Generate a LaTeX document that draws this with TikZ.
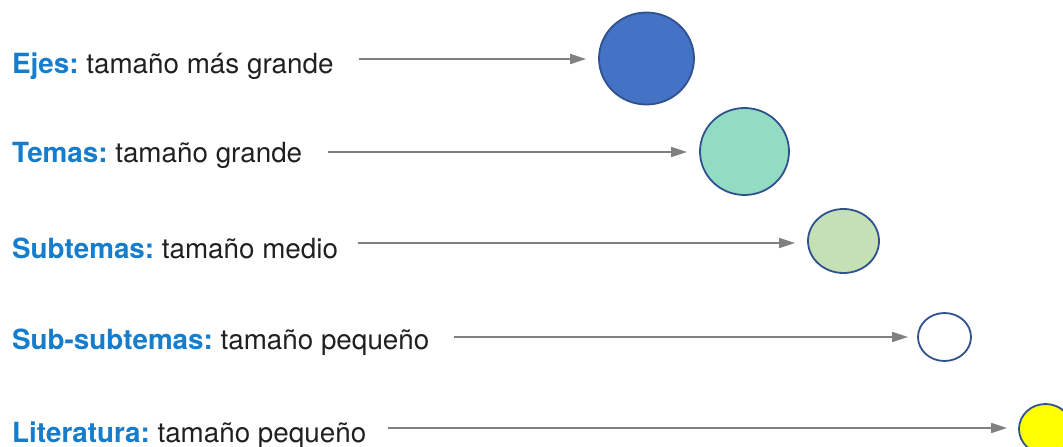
\documentclass[tikz,border=0pt]{standalone}
\usepackage{fontspec}
\setmainfont{TeX Gyre Heros}
\usetikzlibrary{arrows.meta,shapes.geometric}
\definecolor{lblue}{RGB}{22,125,205}
\definecolor{txt}{RGB}{34,31,32}
\definecolor{edge}{RGB}{47,82,143}
\definecolor{arr}{RGB}{128,128,128}
\definecolor{f1}{RGB}{68,114,196}
\definecolor{f2}{RGB}{146,220,196}
\definecolor{f3}{RGB}{197,224,180}
\definecolor{f5}{RGB}{255,255,0}
\frenchspacing
\tikzset{
  lbl/.style={anchor=base west, inner sep=0pt, text=txt, font=\fontsize{27.8}{32}\selectfont},
  bubble/.style={ellipse, draw=edge, line width=1.8pt, inner sep=0pt},
  conn/.style={draw=arr, line width=1.5pt, -{Triangle[length=16pt,width=10pt]}}
}
\newcommand{\hd}[1]{\textcolor{lblue}{\bfseries #1}}
\begin{document}
\begin{tikzpicture}[x=1pt,y=-1pt]
\useasboundingbox (0,0) rectangle (1063,447);
% labels
\node[lbl] (t1) at (12,73) {\hd{Ejes:} tamaño más grande};
\node[lbl] (t2) at (12,162) {\hd{Temas:} tamaño grande};
\node[lbl] (t3) at (12,258) {\hd{Subtemas:} tamaño medio};
\node[lbl] (t4) at (12,349) {\hd{Sub-subtemas:} tamaño pequeño};
\node[lbl] (t5) at (12,442) {\hd{Literatura:} tamaño pequeño};
% bubbles
\node[bubble, fill=f1, minimum width=95pt, minimum height=92pt] (c1) at (646.5,58.5) {};
\node[bubble, fill=f2, minimum width=89pt, minimum height=87pt] (c2) at (744.5,151.5) {};
\node[bubble, fill=f3, minimum width=71pt, minimum height=64pt] (c3) at (843.5,241) {};
\node[bubble, fill=white, minimum width=53pt, minimum height=48pt] (c4) at (944.5,337) {};
\node[bubble, fill=f5, minimum width=53pt, minimum height=50pt] (c5) at (1045.5,429) {};
% connector starts
\coordinate (s1) at (359,59);
\coordinate (s2) at (328,152);
\coordinate (s3) at (358,243);
\coordinate (s4) at (454,337);
\coordinate (s5) at (388,428);
\draw[conn, shorten >=12pt] (s1) -- (s1 -| c1.west);
\draw[conn, shorten >=12pt] (s2) -- (s2 -| c2.west);
\draw[conn, shorten >=12pt] (s3) -- (s3 -| c3.west);
\draw[conn, shorten >=9pt] (s4) -- (s4 -| c4.west);
\draw[conn, shorten >=11pt] (s5) -- (s5 -| c5.west);
\end{tikzpicture}
\end{document}
